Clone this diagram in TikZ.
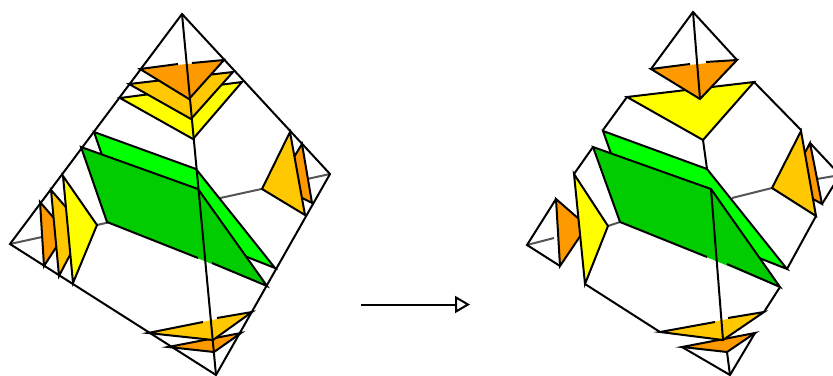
\documentclass[tikz,border=0pt]{standalone}
\usepackage{xcolor}
\usetikzlibrary{arrows.meta}
\definecolor{cutorange}{HTML}{FF9900}
\definecolor{cutamber}{HTML}{FFC800}
\definecolor{cutyellow}{HTML}{FFFF00}
\definecolor{cutlime}{HTML}{00FF00}
\definecolor{cutgreen}{HTML}{00CC00}
\definecolor{rulegray}{HTML}{555555}
\begin{document}
\begin{tikzpicture}[
  x=1pt, y=-1pt,
  edge/.style={draw=black, line width=2pt},
  hidden/.style={draw=rulegray, line width=2pt},
  orangeface/.style={fill=cutorange},
  amberface/.style={fill=cutamber},
  yellowface/.style={fill=cutyellow},
  limeface/.style={fill=cutlime},
  greenface/.style={fill=cutgreen},
  ar/.style={edge, -{Triangle[open, length=15pt, width=17pt]}}
]
\useasboundingbox (0,0) rectangle (833,375);
\clip (0,0) rectangle (833,375);

% left solid
\coordinate (a) at (182,14);
\coordinate (r) at (330,174);
\coordinate (b) at (216,375);
\coordinate (l) at (10,244);
\draw[hidden] (l) -- (r);
\draw[edge, limeface] (94,132) -- (196,169) -- (275,268) -- (120,207) -- cycle;
\fill[greenface] (107,222) -- (81,147) -- (198,189) -- (267,286) -- cycle;
\draw[edge] (198,258) -- (107,222) -- (81,147) -- (198,189) -- (267,286) -- (212,263);
% top cuts
\draw[edge, yellowface] (120,98) -- (242,82) -- (193,139) -- cycle;
\draw[edge, amberface] (129,84) -- (233,72) -- (191,119) -- cycle;
\fill[orangeface] (140,69) -- (224,60) -- (189,99) -- cycle;
\draw[edge] (178,64) -- (140,69) -- (189,99) -- (224,60) -- (192,63);
% left cuts
\draw[edge, orangeface] (40,202) -- (66,232) -- (44,266) -- cycle;
\draw[edge, amberface] (51,190) -- (84,228) -- (59,276) -- cycle;
\draw[edge, yellowface] (63,176) -- (97,225) -- (73,283) -- cycle;
% right cuts
\draw[edge, orangeface] (302,144) -- (312,203) -- (277,185) -- cycle;
\draw[edge, amberface] (290,132) -- (305,215) -- (262,189) -- cycle;
% bottom cuts
\draw[edge, orangeface] (168,347) -- (241,333) -- (214,352) -- cycle;
\fill[amberface] (148,333) -- (252,312) -- (213,340) -- cycle;
\draw[edge] (203,322) -- (148,333) -- (213,340) -- (252,312) -- (217,318);
\draw[edge] (a) -- (r) -- (b) -- (l) -- cycle;
\draw[edge] (a) -- (b);

% arrow
\coordinate (from) at (361,304.5);
\coordinate (to) at (470,304.5);
\draw[ar] (from) -- (to);

% right solid
\coordinate (apex) at (693,12);
\coordinate (foot) at (730,375);
\coordinate (west) at (527,245);
\coordinate (east) at (840,175);
\draw[hidden] (west) -- (554,238);
\draw[hidden] (608,226) -- (620,222);
\draw[hidden] (732,198) -- (772,188);
\draw[hidden] (817,179) -- (east);
\draw[edge, limeface] (603,131) -- (707,169) -- (787,269) -- (630,207) -- cycle;
\fill[greenface] (620,222) -- (593,147) -- (711,189) -- (780,287) -- cycle;
\draw[edge] (707,257) -- (620,222) -- (593,147) -- (711,189) -- (780,287) -- (727,264);
% faces of the middle part
\draw[edge] (754,82) -- (801,130);
\draw[edge] (627,97) -- (603,130);
\draw[edge] (703,140) -- (707,169);
\draw[edge] (593,147) -- (574,174);
\draw[edge] (585,284) -- (660,332);
\draw[edge] (816,216) -- (787,269);
\draw[edge] (780,287) -- (764,312);
\draw[edge, yellowface] (627,97) -- (754,82) -- (703,140) -- cycle;
% left piece
\draw[edge, orangeface] (556,199) -- (587,226) -- (560,266) -- cycle;
\draw[edge] (556,199) -- (west) -- (560,266);
\draw[edge, yellowface] (574,174) -- (608,226) -- (585,284) -- cycle;
% right piece
\draw[edge, orangeface] (810,143) -- (822,204) -- (788,185) -- cycle;
\draw[edge] (810,143) -- (east) -- (822,204);
\draw[edge, amberface] (801,131) -- (816,216) -- (772,188) -- cycle;
% top piece
\fill[orangeface] (651,69) -- (737,60) -- (700,99) -- cycle;
\draw[edge] (690,64) -- (651,69) -- (700,99) -- (737,60) -- (706,62);
\draw[edge] (651,69) -- (apex) -- (737,60);
\draw[edge] (apex) -- (700,99);
% bottom piece
\draw[edge, orangeface] (682,347) -- (755,333) -- (727,352) -- cycle;
\draw[edge] (682,347) -- (foot) -- (755,333);
\draw[edge] (727,352) -- (foot);
\fill[amberface] (660,332) -- (764,312) -- (723,340) -- cycle;
\draw[edge] (715,322) -- (660,332) -- (723,340) -- (764,312) -- (728,318);
\draw[edge] (711,189) -- (723,340);
\end{tikzpicture}
\end{document}
